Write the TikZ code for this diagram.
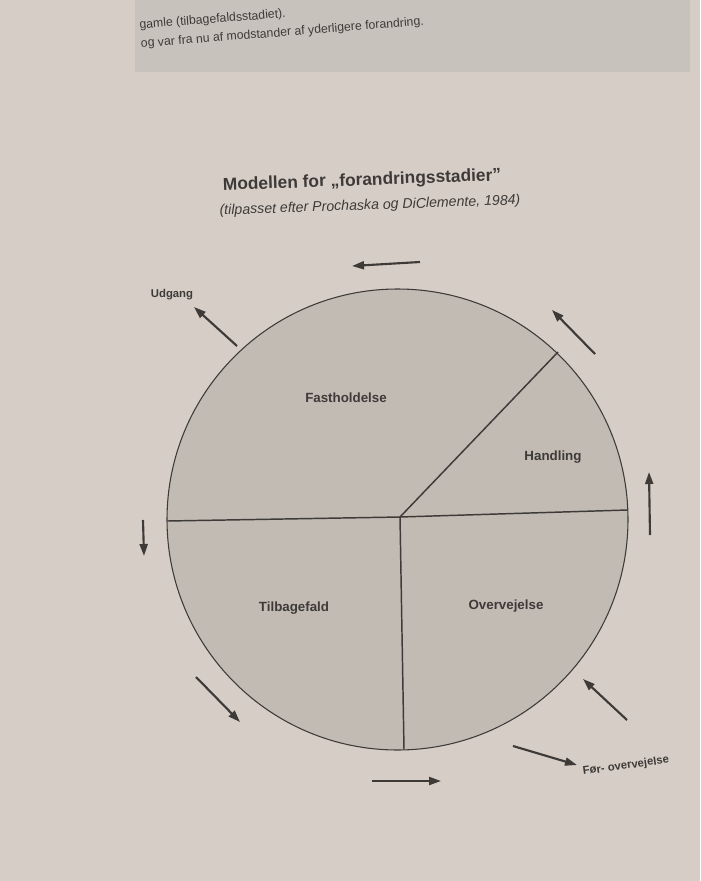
\documentclass[tikz,border=0pt]{standalone}
\usepackage{fontspec}
\setmainfont{Liberation Sans}
\usetikzlibrary{arrows.meta}
\definecolor{page}{RGB}{214,206,198}
\definecolor{boxgrey}{RGB}{200,194,188}
\definecolor{disc}{RGB}{194,187,180}
\definecolor{ink}{RGB}{62,58,56}
\begin{document}
\begin{tikzpicture}[x=0.75pt,y=-0.75pt,
  flow/.style={draw=ink,line width=1.6pt,-{Triangle[length=9pt,width=6pt]}},
  divider/.style={draw=ink,line width=1.1pt},
  stage/.style={font=\fontsize{10}{11}\selectfont\bfseries,text=ink,inner sep=1pt},
  outer/.style={font=\fontsize{8.5}{10}\selectfont\bfseries,text=ink,inner sep=1pt},
  body/.style={font=\fontsize{9.2}{14}\selectfont,text=ink,anchor=west,inner sep=0pt,align=left}]
\useasboundingbox (0,0) rectangle (700,881);
\fill[page] (0,0) rectangle (700,881);
% text box at top of page
\fill[boxgrey] (135,0) rectangle (690,72);
\node[body,rotate=4.5] (para) at (140,35) {gamle (tilbagefaldsstadiet).\\og var fra nu af modstander af yderligere forandring.};
% title
\node[font=\fontsize{13}{15}\selectfont\bfseries,text=ink,rotate=2] (title) at (362,181) {Modellen for „forandringsstadier”};
\node[font=\fontsize{10.6}{12}\selectfont\itshape,text=ink,rotate=2] (sub) at (370,206) {(tilpasset efter Prochaska og DiClemente, 1984)};
% circle
\coordinate (c) at (400,517);
\node[circle,draw=ink,line width=0.8pt,fill=disc,minimum size=461*0.75pt,inner sep=0pt] (disc) at (397.5,519.5) {};
\coordinate (ur) at (558,352);
\coordinate (lf) at (167.5,521);
\coordinate (rt) at (627.5,510);
\coordinate (bt) at (404,749.5);
\draw[divider] (c) -- (ur);
\draw[divider] (c) -- (lf);
\draw[divider] (c) -- (rt);
\draw[divider] (c) -- (bt);
% stage labels
\node[stage] (fast) at (346,398) {Fastholdelse};
\node[stage] (hand) at (553,457) {Handling};
\node[stage] (tilb) at (294,608) {Tilbagefald};
\node[stage] (over) at (506,606) {Overvejelse};
% outer arrows
\coordinate (a1s) at (420,262); \coordinate (a1e) at (352,266);
\draw[flow] (a1s) -- (a1e);
\coordinate (a2s) at (237,346); \coordinate (a2e) at (194,307);
\draw[flow] (a2s) -- (a2e);
\node[outer] (udgang) at (172,295) {Udgang};
\coordinate (a3s) at (595,354); \coordinate (a3e) at (552,310);
\draw[flow] (a3s) -- (a3e);
\coordinate (a4s) at (650,535); \coordinate (a4e) at (649,472);
\draw[flow] (a4s) -- (a4e);
\coordinate (a5s) at (143,520); \coordinate (a5e) at (144,556);
\draw[flow] (a5s) -- (a5e);
\coordinate (a6s) at (196,677); \coordinate (a6e) at (240,722);
\draw[flow] (a6s) -- (a6e);
\coordinate (a7s) at (372,781); \coordinate (a7e) at (441,781);
\draw[flow] (a7s) -- (a7e);
\coordinate (a8s) at (627,720); \coordinate (a8e) at (583,679);
\draw[flow] (a8s) -- (a8e);
\coordinate (a9s) at (513,746); \coordinate (a9e) at (577,765);
\draw[flow] (a9s) -- (a9e);
\node[outer,rotate=8] (foer) at (626,766) {Før- overvejelse};
\end{tikzpicture}
\end{document}
